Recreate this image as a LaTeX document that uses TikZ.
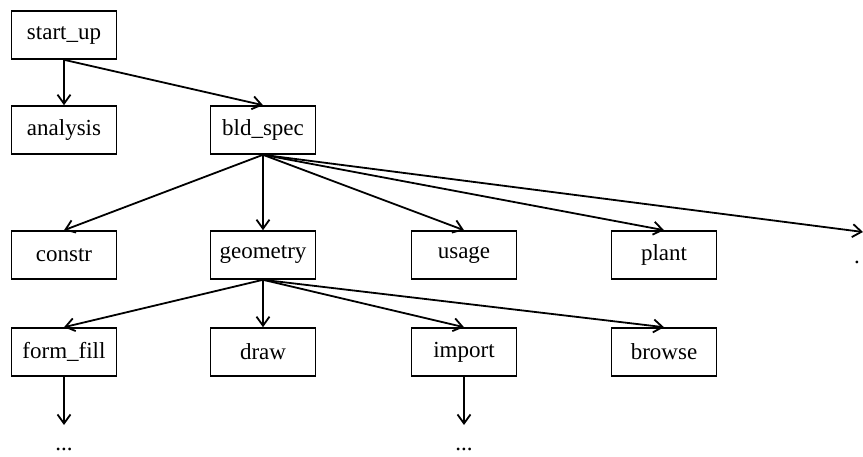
\documentclass[tikz,border=0pt]{standalone}
\usepackage{fontspec}
\setmainfont{Liberation Serif}
\usetikzlibrary{
  positioning,
  arrows.meta
}

\begin{document}
\begin{tikzpicture}[x=1pt,y=-1pt,>={Straight Barb[length=9pt,width=13pt]},
    module/.style={draw,line width=1.6pt,minimum width=105pt,minimum height=48pt,
      inner sep=0pt,font=\fontsize{23}{27}\selectfont},
    call/.style={->,line width=1.8pt},
    more/.style={inner sep=0pt,font=\fontsize{23}{27}\selectfont}]
            \useasboundingbox (0,0) rectangle (863,457);
            % call tree, one row per level
            \node[module] (startup) at (64,35) {start\_up};
            \node[module] (analysis) at (64,130) {analysis};
            \node[module] (bldspec) at (263,130) {bld\_spec};
            \node[module] (constr) at (64,255) {constr};
            \node[module] (geometry) at (263,255) {geometry};
            \node[module] (usage) at (464,255) {usage};
            \node[module] (plant) at (664,255) {plant};
            \node[module] (formfill) at (64,352) {form\_fill};
            \node[module] (draw) at (263,352) {draw};
            \node[module] (import) at (464,352) {import};
            \node[module] (browse) at (664,352) {browse};
            % loose ends
            \coordinate (tipA) at (64,425);
            \coordinate (tipB) at (464,425);
            \coordinate (tipC) at (863,232);
            \node[more,anchor=base] (moreA) at (64,450) {...};
            \node[more,anchor=base] (moreB) at (464,450) {...};
            \node[more] (moreC) at (857,262) {.};
            \draw[call] (startup.south) -- (analysis.north);
            \draw[call] (startup.south) -- (bldspec.north);
            \foreach \n in {constr,geometry,usage,plant}
                \draw[call] (bldspec.south) -- (\n.north);
            \draw[call] (bldspec.south) -- (tipC);
            \foreach \n in {formfill,draw,import,browse}
                \draw[call] (geometry.south) -- (\n.north);
            \draw[call] (formfill.south) -- (tipA);
            \draw[call] (import.south) -- (tipB);
        \end{tikzpicture}
\end{document}
